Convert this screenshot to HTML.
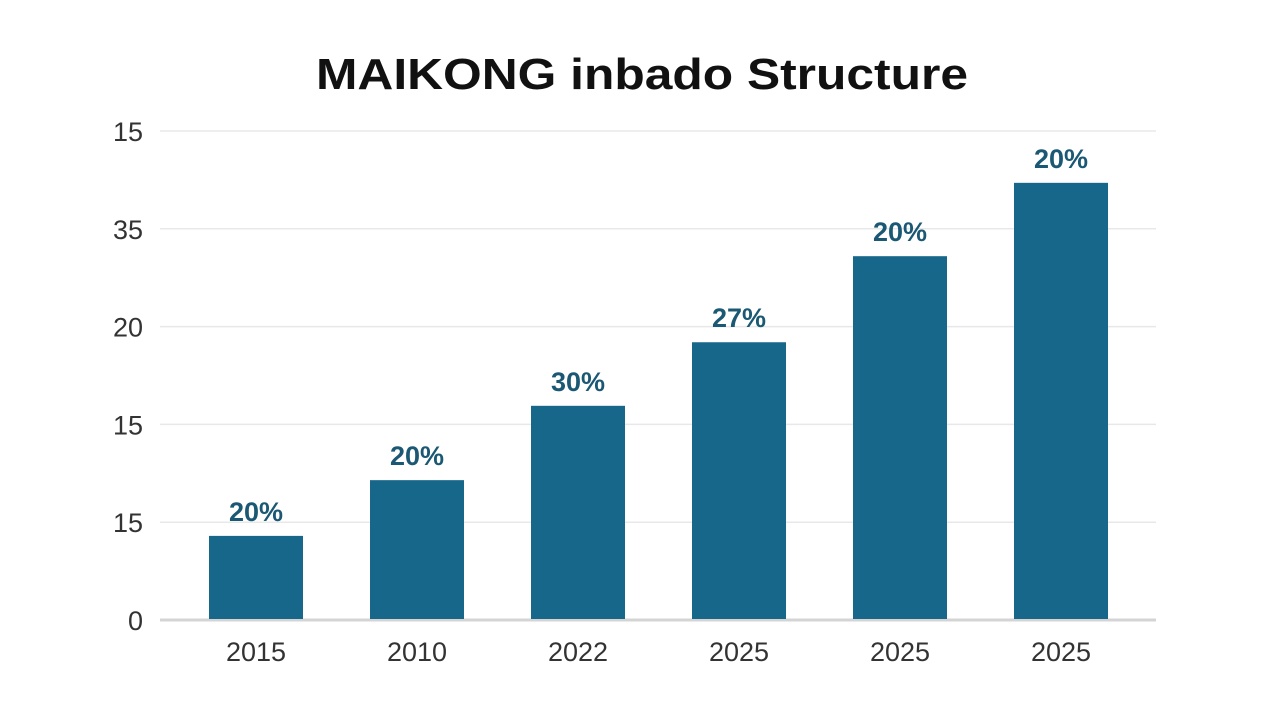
<!DOCTYPE html>
<html>
<head>
<meta charset="utf-8">
<style>
  html,body{margin:0;padding:0;background:#fff;}
  body{width:1280px;height:704px;overflow:hidden;font-family:"Liberation Sans","DejaVu Sans",sans-serif;}
</style>
</head>
<body>
<svg id="chart" width="1280" height="704" viewBox="0 0 1280 704" xmlns="http://www.w3.org/2000/svg">
  <text x="316" y="89" textLength="652" lengthAdjust="spacingAndGlyphs" font-family="Liberation Sans, sans-serif" font-weight="bold" font-size="44" fill="#111">MAIKONG  inbado Structure</text>
  <g id="grid"></g>
  <g id="yticks"></g>
  <g id="bars"></g>
  <g id="xticks"></g>
</svg>
<script>
const categories = ["2015","2010","2022","2025","2025","2025"];
const values = [0.86, 1.43, 2.19, 2.84, 3.72, 4.47];
const valueLabels = ["20%","20%","30%","27%","20%","20%"];
const tickValues = [0,1,2,3,4,5];
const tickLabels = ["0","15","15","20","35","15"];

const NS="http://www.w3.org/2000/svg";
const plotLeft=160, plotRight=1156, y0=620, yTop=131, vMax=5;
const yScale=v=>y0-(v/vMax)*(y0-yTop);
const firstCenter=256, step=161;
const xCenter=i=>firstCenter+step*i;
const barW=94;
function mk(tag,attrs,parent){const e=document.createElementNS(NS,tag);for(const k in attrs)e.setAttribute(k,attrs[k]);parent.appendChild(e);return e;}
const grid=document.getElementById('grid'),yt=document.getElementById('yticks'),bars=document.getElementById('bars'),xt=document.getElementById('xticks');
tickValues.forEach((v,i)=>{
  const y=yScale(v);
  const l=mk('line',{x1:plotLeft,x2:plotRight,y1:y,y2:y,stroke:v===0?'#d4d4d4':'#e8e8e8','stroke-width':v===0?3:1.5},grid);
  
  
  const t=mk('text',{x:143,y:y+10,'text-anchor':'end','font-size':27,fill:'#333'},yt);
  t.textContent=tickLabels[i];
  
  
});
categories.forEach((c,i)=>{
  const cx=xCenter(i), top=yScale(values[i]);
  const r=mk('rect',{x:cx-barW/2,y:top,width:barW,height:y0-top-1,fill:'#17678a'},bars);
  
  
  const lb=mk('text',{x:cx,y:top-15,'text-anchor':'middle','font-size':27,'font-weight':'bold',fill:'#1b5874'},bars);
  lb.textContent=valueLabels[i];
  
  
  const xl=mk('text',{x:cx,y:661,'text-anchor':'middle','font-size':27,fill:'#333'},xt);
  xl.textContent=c;
  
  
});
</script>
</body>
</html>
